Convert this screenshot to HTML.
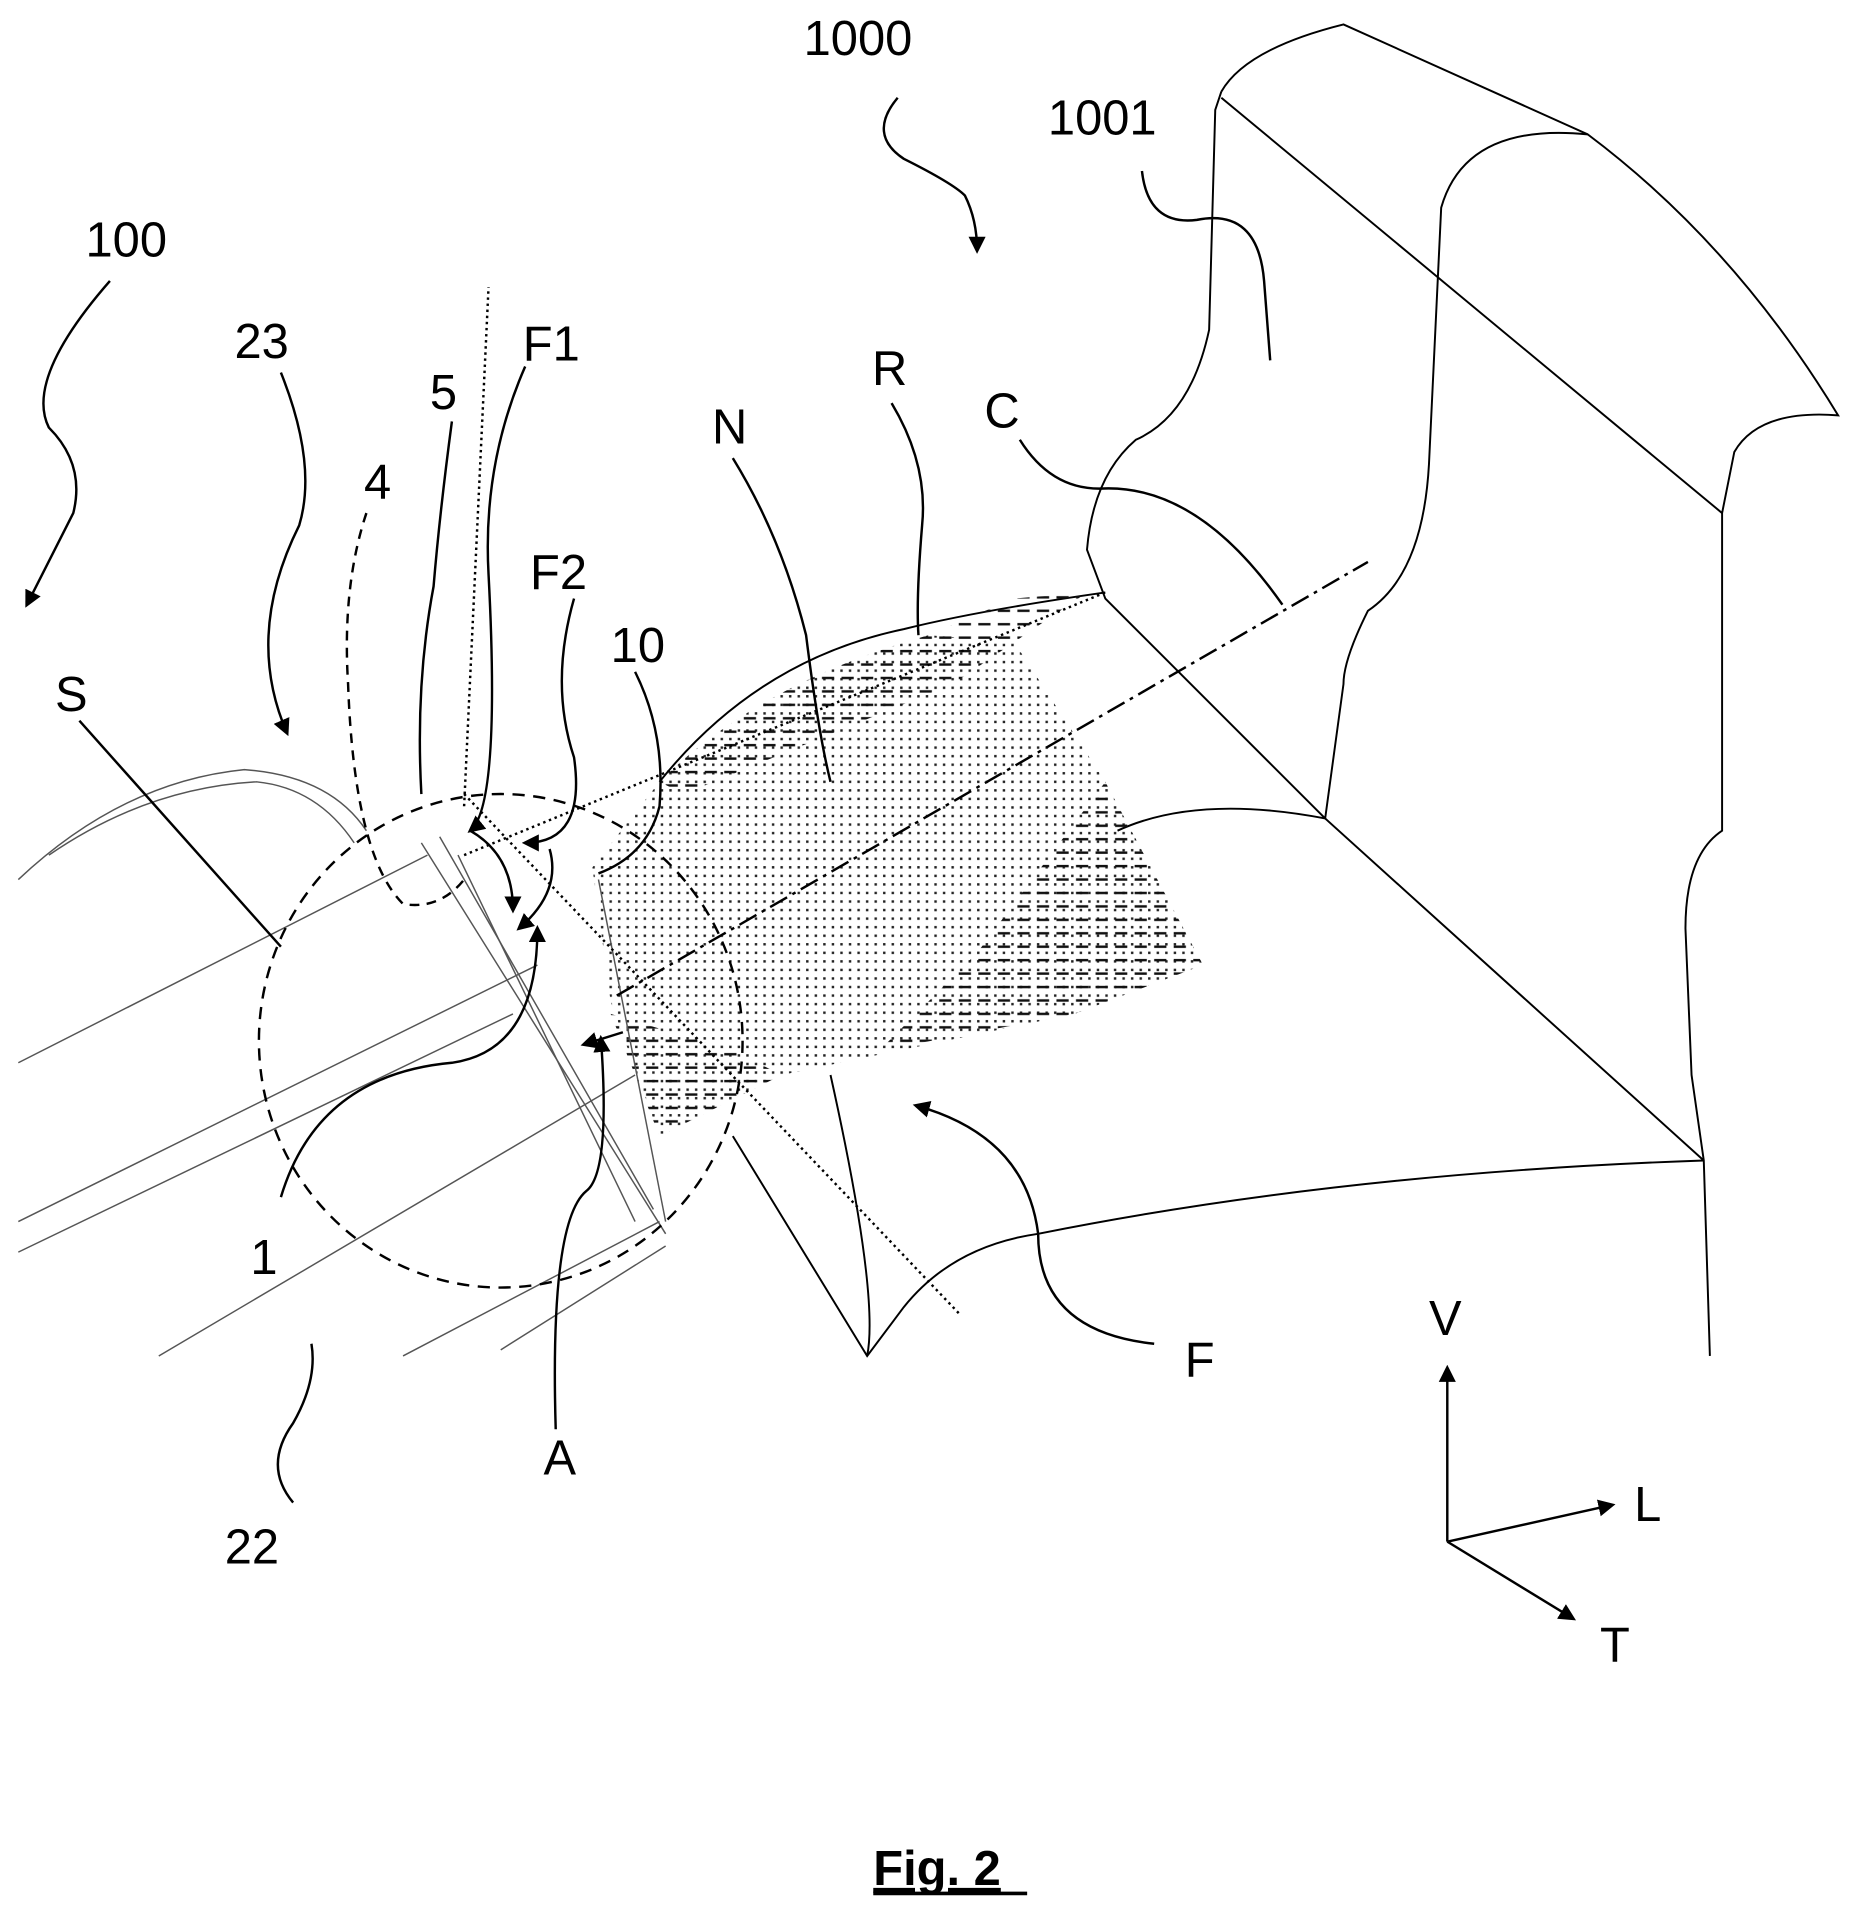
<!DOCTYPE html>
<html><head><meta charset="utf-8"><style>
html,body{margin:0;padding:0;background:#fff}
svg{display:block}
text{font-family:"Liberation Sans",sans-serif;font-size:40px;fill:#000}
</style></head><body>
<svg width="1854" height="1913" viewBox="0 0 1518 1566" preserveAspectRatio="none" xmlns="http://www.w3.org/2000/svg">
<defs>
<pattern id="dots" width="7" height="7" patternUnits="userSpaceOnUse"><rect x="2" y="2" width="2" height="2" fill="#222"/></pattern>
<pattern id="dash" width="16" height="11" patternUnits="userSpaceOnUse"><rect x="1" y="4" width="10" height="2" fill="#111"/></pattern>
<marker id="ah" viewBox="0 0 10 10" refX="8" refY="5" markerWidth="7" markerHeight="7" orient="auto"><path d="M0,0L10,5L0,10z" fill="#000"/></marker>
</defs>
<g fill="none" stroke="#000" stroke-width="1.6">
<!-- machine -->
<path d="M1000,75 Q1020,40 1100,20 L1300,110 Q1420,200 1505,340 Q1440,335 1420,370 L1410,420 L1410,680 Q1380,700 1380,760 L1385,880 L1395,950 L1400,1110"/>
<path d="M1000,80 L1410,420"/>
<path d="M1300,110 Q1200,100 1180,170 L1170,380 Q1165,470 1120,500 Q1100,540 1100,560 L1085,670"/>
<path d="M1000,75 L995,90 L990,270 Q975,340 930,360 Q895,390 890,450 L905,490 L1085,670 L1395,950"/>
<path d="M905,485 Q800,500 740,515 Q620,540 540,640"/>
<path d="M1085,670 Q980,650 915,680"/>
<path d="M1395,950 Q1100,960 850,1010 Q780,1020 740,1070 L710,1110 L600,930"/>
<path d="M710,1110 Q720,1060 680,880"/>
</g>
<!-- hatched regions -->
<path d="M485,710 L540,640 Q620,560 760,520 L830,525 L905,640 L985,790 L880,830 L640,880 L540,930 L500,820 Z" fill="url(#dots)"/>
<path d="M540,640 Q620,560 760,520 L830,490 L890,485 L780,560 L560,650 Z" fill="url(#dash)"/>
<path d="M905,640 L985,790 L880,830 L720,860 L800,780 Z" fill="url(#dash)"/>
<path d="M500,830 L540,930 L640,880 L600,860 Z" fill="url(#dash)"/>
<g fill="none" stroke="#555" stroke-width="1.2">
<path d="M15,720 Q100,640 200,630 Q270,635 300,680"/>
<path d="M40,700 Q120,645 210,640 Q260,645 290,690"/>
<path d="M15,870 L350,700"/><path d="M15,1000 L440,790"/><path d="M15,1025 L420,830"/>
<path d="M130,1110 L520,880"/><path d="M330,1110 L540,1000"/><path d="M410,1105 L545,1020"/>
<path d="M345,690 L545,1010"/><path d="M360,685 L535,990"/><path d="M375,700 L520,1000"/><path d="M490,720 L545,1000"/>
</g>
<g fill="none" stroke="#000" stroke-width="2" stroke-dasharray="2,3">
<path d="M380,650 L785,1075"/><path d="M380,660 L400,235"/><path d="M380,700 L905,485"/>
</g>
<ellipse cx="410" cy="852" rx="198" ry="202" fill="none" stroke="#000" stroke-width="2" stroke-dasharray="10,7"/>
<path d="M505,815 L1120,460" fill="none" stroke="#000" stroke-width="2" stroke-dasharray="16,5,3,5"/>
<path d="M300,420 Q280,480 285,560 Q290,700 330,740 Q360,745 380,720" fill="none" stroke="#000" stroke-width="2" stroke-dasharray="8,6"/>
<!-- leaders -->
<g fill="none" stroke="#000" stroke-width="2">
<path d="M735,80 Q710,110 740,130 Q780,150 790,160 Q800,180 800,205" marker-end="url(#ah)"/>
<path d="M935,140 Q940,185 980,180 Q1030,170 1035,230 L1040,295"/>
<path d="M90,230 Q20,310 40,350 Q70,380 60,420 L22,495" marker-end="url(#ah)"/>
<path d="M230,305 Q260,380 245,430 Q200,520 235,600" marker-end="url(#ah)"/>
<path d="M370,345 Q360,420 355,480 Q340,560 345,650"/>
<path d="M430,300 Q395,380 400,470 Q410,660 385,680" marker-end="url(#ah)"/>
<path d="M470,490 Q450,560 470,620 Q480,690 430,690" marker-end="url(#ah)"/>
<path d="M520,550 Q545,600 540,660 Q530,700 490,715"/>
<path d="M600,375 Q640,440 660,520 Q670,600 680,640"/>
<path d="M730,330 Q760,380 755,430 Q750,490 752,520"/>
<path d="M835,360 Q860,400 900,400 Q980,395 1050,495"/>
<path d="M65,590 L230,775"/>
<path d="M230,980 Q260,880 370,870 Q440,860 440,760" marker-end="url(#ah)"/>
<path d="M240,1230 Q215,1200 240,1165 Q260,1130 255,1100"/>
<path d="M455,1170 Q450,1000 480,975 Q500,960 492,850" marker-end="url(#ah)"/>
<path d="M945,1100 Q850,1090 850,1010 Q840,930 750,905" marker-end="url(#ah)"/>
<path d="M385,680 Q420,700 420,745" marker-end="url(#ah)"/>
<path d="M450,695 Q460,730 425,760" marker-end="url(#ah)"/>
<path d="M510,845 L478,855" marker-end="url(#ah)"/>
<!-- axes -->
<path d="M1185,1262 L1185,1120" marker-end="url(#ah)"/>
<path d="M1185,1262 L1320,1232" marker-end="url(#ah)"/>
<path d="M1185,1262 L1288,1325" marker-end="url(#ah)"/>
</g>
<g>
<text x="658" y="45">1000</text><text x="858" y="110">1001</text><text x="70" y="210">100</text>
<text x="192" y="293">23</text><text x="298" y="408">4</text><text x="352" y="335">5</text>
<text x="428" y="295">F1</text><text x="434" y="482">F2</text><text x="500" y="542">10</text>
<text x="583" y="363">N</text><text x="714" y="315">R</text><text x="806" y="350">C</text>
<text x="45" y="582">S</text><text x="205" y="1043">1</text><text x="184" y="1280">22</text>
<text x="445" y="1207">A</text><text x="970" y="1127">F</text>
<text x="1170" y="1093">V</text><text x="1338" y="1245">L</text><text x="1310" y="1360">T</text>
<text x="715" y="1543" font-weight="bold" text-decoration="underline">Fig. 2</text>
<line x1="715" y1="1550" x2="841" y2="1550" stroke="#000" stroke-width="3"/>
</g>
</svg>
</body></html>
